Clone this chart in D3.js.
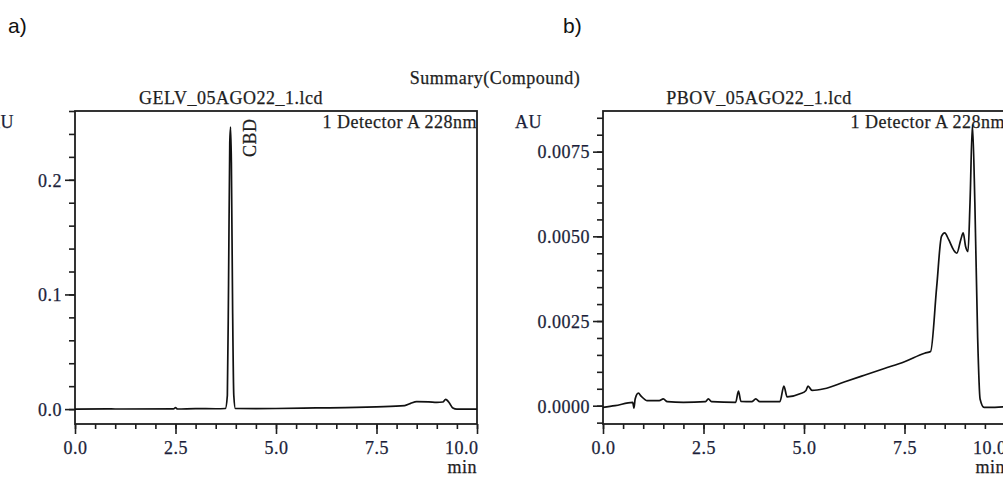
<!DOCTYPE html>
<html>
<head>
<meta charset="utf-8">
<script src="https://d3js.org/d3.v7.min.js"></script>
<style>
  body { margin: 0; background: #fff; }
  svg { display: block; }
  .serif { font-family: "Liberation Serif", "Times New Roman", serif; font-size: 18px; letter-spacing: 0.5px; stroke-width: 0.25px; }
</style>
</head>
<body>
<script>
  // ---- data (time in min, absorbance in AU) ----
  var gelvTime = [0, 0.8, 1.0, 2.45, 2.5, 2.55, 3.0, 3.5, 3.74, 3.79, 3.82, 3.85, 3.87, 3.89, 3.92, 3.95, 3.99, 4.5, 5.0, 6.0, 7.0, 7.5, 8.2, 8.35, 8.5, 8.8, 9.0, 9.15, 9.22, 9.3, 9.4, 9.5, 10.0];
  var gelvAU   = [0, 0.0002, 0.0001, 0.0002, 0.0012, 0.0001, 0.0004, 0.0003, 0.0005, 0.012, 0.11, 0.232, 0.246, 0.215, 0.09, 0.012, 0.0005, 0.0004, 0.0005, 0.001, 0.0015, 0.002, 0.003, 0.005, 0.0065, 0.0063, 0.0058, 0.0062, 0.0085, 0.006, 0.001, 0, 0];

  var pbovTime = [0, 0.3, 0.74, 0.77, 0.8, 0.88, 0.95, 1.1, 1.4, 1.5, 1.6, 2.0, 2.55, 2.62, 2.7, 3.3, 3.37, 3.43, 3.7, 3.8, 3.9, 4.4, 4.5, 4.58, 4.9, 5.05, 5.1, 5.2, 5.5, 6.0, 6.5, 7.0, 7.5, 8.0, 8.15, 8.3, 8.42, 8.5, 8.6, 8.72, 8.8, 8.9, 8.96, 9.02, 9.08, 9.13, 9.19, 9.25, 9.32, 9.38, 9.48, 9.6, 10.0];
  var pbovAU   = [-0.00005, 0, 0.0001, -0.00007, 0.0002, 0.00037, 0.00028, 0.00015, 0.00015, 0.0002, 0.00012, 0.0001, 0.00012, 0.0002, 0.00012, 0.0001, 0.00043, 0.00013, 0.00012, 0.0002, 0.00012, 0.00012, 0.00058, 0.00026, 0.00035, 0.00045, 0.00058, 0.00045, 0.0005, 0.0007, 0.0009, 0.0011, 0.0013, 0.00155, 0.0016, 0.0035, 0.005, 0.0051, 0.0049, 0.0046, 0.0045, 0.0049, 0.0051, 0.0047, 0.00455, 0.006, 0.0083, 0.006, 0.002, 0.0002, -0.00005, -0.00005, -0.00003];

  var xMajor = [0, 2.5, 5.0, 7.5, 10.0];
  var gelvYMajor = [0.0, 0.1, 0.2];
  var pbovYMajor = [0.0, 0.0025, 0.005, 0.0075];

  var svg = d3.select("body").append("svg")
    .attr("width", 1003)
    .attr("height", 479);

  var ink = "#1e1e1e";
  var tickInk = "#1c1f3a";

  var drawPanel = function(opt) {
    var x = d3.scaleLinear().domain([0, 10]).range([opt.left, opt.left + 402]);
    var y = d3.scaleLinear().domain(opt.yDomain).range([424, 111]);

    // minor ticks
    var xMinor = d3.range(0, 10.001, 0.5);
    svg.append("g").attr("transform", "translate(0,424)")
      .call(d3.axisBottom(x).tickValues(xMinor).tickSize(5).tickFormat(""))
      .call(function(g) { g.select(".domain").remove(); g.selectAll("line").attr("stroke", ink).attr("stroke-width", 1.6); });
    svg.append("g").attr("transform", "translate(" + opt.left + ",0)")
      .call(d3.axisLeft(y).tickValues(opt.yMinor).tickSize(6).tickFormat(""))
      .call(function(g) { g.select(".domain").remove(); g.selectAll("line").attr("stroke", ink).attr("stroke-width", 1.6); });

    // major x
    var gx = svg.append("g").attr("transform", "translate(0,424)")
      .call(d3.axisBottom(x).tickValues(xMajor).tickSize(10).tickPadding(0).tickFormat(d3.format(".1f")));
    gx.select(".domain").remove();
    gx.selectAll("line").attr("stroke", ink).attr("stroke-width", 1.6);
    gx.selectAll("text").attr("class", "serif").attr("fill", tickInk).attr("stroke", tickInk).attr("dy", 0).attr("y", 30)
      .attr("text-anchor", function(d) { return d === 10 ? "end" : "middle"; })
      .attr("x", function(d) { return d === 10 ? 1 : 0; });

    // major y
    var gy = svg.append("g").attr("transform", "translate(" + opt.left + ",0)")
      .call(d3.axisLeft(y).tickValues(opt.yMajor).tickSize(10).tickPadding(3).tickFormat(d3.format(opt.fmt)));
    gy.select(".domain").remove();
    gy.selectAll("line").attr("stroke", ink).attr("stroke-width", 1.6);
    gy.selectAll("text").attr("class", "serif").attr("fill", tickInk).attr("stroke", tickInk).attr("dy", "0.35em");

    // frame
    svg.append("rect")
      .attr("x", opt.left).attr("y", 111)
      .attr("width", 402).attr("height", 313)
      .attr("fill", "none").attr("stroke", ink).attr("stroke-width", 1.8);

    // trace
    var pts = opt.t.map(function(t, i) { return [t, opt.v[i]]; });
    svg.append("path")
      .datum(pts)
      .attr("fill", "none")
      .attr("stroke", "#111")
      .attr("stroke-width", 1.7)
      .attr("d", d3.line().curve(d3.curveMonotoneX)
        .x(function(d) { return x(d[0]); })
        .y(function(d) { return y(d[1]); }));

    // texts
    svg.append("text").attr("class", "serif").attr("fill", ink).attr("stroke", ink)
      .attr("x", opt.left + 156).attr("y", 104).attr("text-anchor", "middle")
      .text(opt.title);
    svg.append("text").attr("class", "serif").attr("fill", ink).attr("stroke", ink)
      .attr("x", opt.left + 402).attr("y", 128).attr("text-anchor", "end")
      .text("1 Detector A 228nm");
    svg.append("text").attr("class", "serif").attr("fill", tickInk).attr("stroke", tickInk)
      .attr("x", opt.left - 61).attr("y", 128).attr("text-anchor", "end")
      .text("AU");

    return { x: x, y: y };
  };

  var a = drawPanel({
    left: 75, title: "GELV_05AGO22_1.lcd",
    t: gelvTime, v: gelvAU,
    yDomain: [-0.013, 0.26], yMajor: gelvYMajor,
    yMinor: d3.range(0, 0.2601, 0.02), fmt: ".1f"
  });
  drawPanel({
    left: 603, title: "PBOV_05AGO22_1.lcd",
    t: pbovTime, v: pbovAU,
    yDomain: [-0.00054, 0.0087], yMajor: pbovYMajor,
    yMinor: d3.range(-0.0005, 0.00871, 0.0005), fmt: ".4f"
  });

  // peak label
  svg.append("text").attr("class", "serif").attr("fill", ink).attr("stroke", ink)
    .attr("transform", "translate(" + (a.x(3.87) + 25) + "," + 157 + ") rotate(-90)")
    .text("CBD");

  svg.append("text").attr("class", "serif").attr("fill", ink).attr("stroke", ink)
    .attr("x", 495).attr("y", 84).attr("text-anchor", "middle")
    .text("Summary(Compound)");

  // panel letters
  svg.append("text").attr("x", 8).attr("y", 33)
    .style("font-family", "'Liberation Sans', Arial, sans-serif").style("font-size", "21px").attr("fill", "#111")
    .text("a)");
  svg.append("text").attr("x", 563).attr("y", 33)
    .style("font-family", "'Liberation Sans', Arial, sans-serif").style("font-size", "21px").attr("fill", "#111")
    .text("b)");

  svg.append("text").attr("class", "serif").attr("fill", ink).attr("stroke", ink)
    .attr("x", 477).attr("y", 473).attr("text-anchor", "end").text("min");
  svg.append("text").attr("class", "serif").attr("fill", ink).attr("stroke", ink)
    .attr("x", 1005).attr("y", 473).attr("text-anchor", "end").text("min");
</script>
</body>
</html>
